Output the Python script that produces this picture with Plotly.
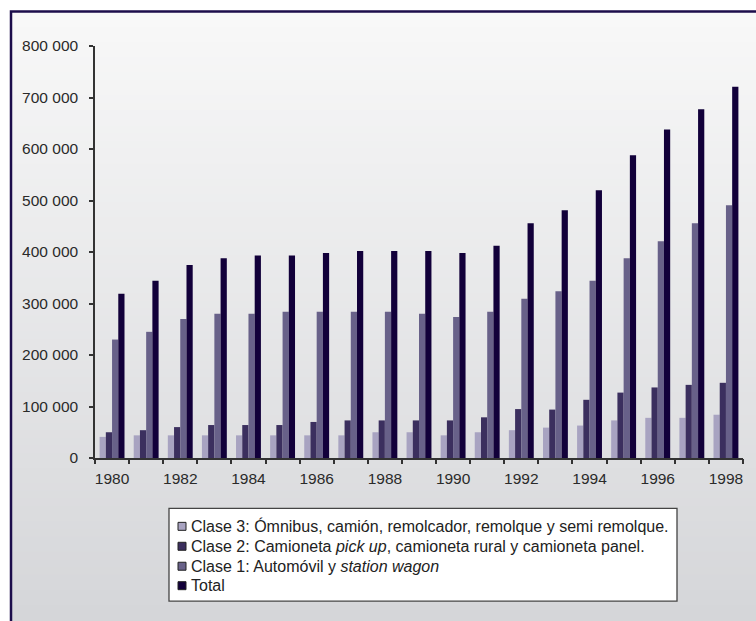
import plotly.graph_objects as go

# Parque vehicular por clase, 1980-1998
years = list(range(1980, 1999))

clase3 = [41000, 44000, 44000, 44000, 44000, 44000, 44000, 44000, 50000, 50000,
          44000, 50000, 54000, 59000, 63000, 73000, 78000, 78000, 84000]
clase2 = [50000, 54000, 60000, 64000, 64000, 64000, 70000, 73000, 73000, 73000,
          73000, 79000, 95000, 94000, 113000, 127000, 137000, 142000, 146000]
clase1 = [230000, 245000, 270000, 280000, 280000, 284000, 284000, 284000, 284000, 280000,
          274000, 284000, 309000, 324000, 344000, 388000, 421000, 456000, 491000]
total = [319000, 344000, 375000, 388000, 393000, 393000, 398000, 402000, 402000, 402000,
         398000, 412000, 456000, 481000, 520000, 588000, 638000, 677000, 721000]

series_names = [
    "Clase 3: Ómnibus, camión, remolcador, remolque y semi remolque.",
    "Clase 2: Camioneta <i>pick up</i>, camioneta rural y camioneta panel.",
    "Clase 1: Automóvil y <i>station wagon</i>",
    "Total",
]
series_colors = ["#a8a3c1", "#3b2f5e", "#686189", "#12003a"]

y_tickvals = [0, 100000, 200000, 300000, 400000, 500000, 600000, 700000, 800000]
y_ticktext = ["0", "100 000", "200 000", "300 000", "400 000", "500 000",
              "600 000", "700 000", "800 000"]
x_tickvals = list(range(1980, 1999, 2))

W, H = 756, 621
L, R, T, B = 95, 13, 45.5, 162.5
plot_w = W - L - R
plot_h = H - T - B


def px_x(px):
    return (px - L) / plot_w


def px_y(py):
    return (H - B - py) / plot_h


fig = go.Figure()
for name, vals, col in zip(series_names, [clase3, clase2, clase1, total], series_colors):
    fig.add_trace(go.Bar(x=years, y=vals, name=name, showlegend=False,
                         marker=dict(color=col, line=dict(width=0))))

# invisible trace carrying the boundary ticks between year groups
fig.add_trace(go.Scatter(x=[1979.5, 1998.5], y=[0, 0], xaxis="x2", mode="lines",
                         line=dict(width=0), showlegend=False, hoverinfo="skip"))

# vertical gradient background inside the frame
shapes = []
n_bands = 80
top_px, bot_px = 11, H
c_top = (248, 248, 248)
c_bot = (213, 214, 217)
for i in range(n_bands):
    f = i / (n_bands - 1)
    c = tuple(round(a + (b - a) * f) for a, b in zip(c_top, c_bot))
    y0 = top_px + (bot_px - top_px) * i / n_bands
    y1 = top_px + (bot_px - top_px) * (i + 1) / n_bands + 1
    shapes.append(dict(type="rect", xref="paper", yref="paper", layer="below",
                       x0=px_x(11), x1=px_x(W + 5), y0=px_y(y1), y1=px_y(y0),
                       fillcolor="rgb(%d,%d,%d)" % c, line=dict(width=0)))
# dark frame
shapes.append(dict(type="rect", xref="paper", yref="paper", layer="above",
                   x0=px_x(11), x1=px_x(W + 10), y0=px_y(H + 10), y1=px_y(11),
                   line=dict(color="#1c0d4b", width=2.5), fillcolor="rgba(0,0,0,0)"))

font_family = "Liberation Sans, Arial, Helvetica, sans-serif"

# legend box with swatches and labels
leg_left, leg_top, leg_right, leg_bottom = 169, 509, 677, 602
shapes.append(dict(type="rect", xref="paper", yref="paper", layer="above",
                   x0=px_x(leg_left), x1=px_x(leg_right),
                   y0=px_y(leg_bottom), y1=px_y(leg_top),
                   fillcolor="white", line=dict(color="#444", width=1.3)))
annotations = []
row_y = [527, 547, 567, 586.5]
for name, col, ry in zip(series_names, series_colors, row_y):
    shapes.append(dict(type="rect", xref="paper", yref="paper", layer="above",
                       x0=px_x(178), x1=px_x(186), y0=px_y(ry + 4), y1=px_y(ry - 4),
                       fillcolor=col, line=dict(color="#222", width=1)))
    annotations.append(dict(xref="paper", yref="paper", x=px_x(188.5), y=px_y(ry),
                            xanchor="left", yanchor="middle", showarrow=False,
                            text=name, font=dict(size=16, color="#222")))

fig.update_layout(
    width=W, height=H,
    margin=dict(l=L, r=R, t=T, b=B),
    paper_bgcolor="white",
    plot_bgcolor="rgba(0,0,0,0)",
    barmode="group",
    bargap=0.27,
    bargroupgap=0,
    showlegend=False,
    font=dict(family=font_family, size=14, color="#2a2a2a"),
    shapes=shapes,
    annotations=annotations,
    xaxis=dict(range=[1979.5, 1998.5], tickvals=x_tickvals, ticks="", showgrid=False,
               zeroline=False, showline=True, linecolor="#333", linewidth=1.5,
               tickfont=dict(size=15.5), ticklabelstandoff=6),
    xaxis2=dict(overlaying="x", side="bottom", range=[1979.5, 1998.5],
                tickvals=[y + 0.5 for y in range(1979, 1999)], ticks="outside",
                ticklen=5, tickwidth=1.5, tickcolor="#333", showticklabels=False,
                showgrid=False, zeroline=False, showline=False),
    yaxis=dict(range=[0, 800000], tickvals=y_tickvals, ticktext=y_ticktext,
               ticks="outside", ticklen=4, tickwidth=1.5, tickcolor="#333",
               showgrid=False, zeroline=False, showline=True, linecolor="#333",
               linewidth=1.5, tickfont=dict(size=15.5), ticklabelstandoff=8),
)

fig.write_html("out.html")
